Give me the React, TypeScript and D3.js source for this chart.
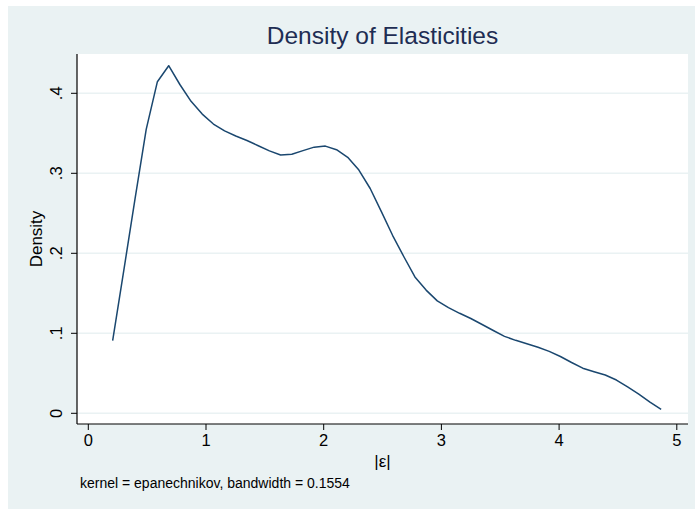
import React, { useEffect, useRef } from "react";
import * as d3 from "d3";

const xValues = [0.207,0.302,0.397,0.492,0.587,0.683,0.778,0.873,0.968,1.063,1.158,1.253,1.348,1.444,1.539,1.634,1.729,1.824,1.919,2.014,2.109,2.204,2.299,2.395,2.490,2.585,2.680,2.775,2.870,2.965,3.060,3.155,3.250,3.346,3.441,3.536,3.631,3.726,3.821,3.916,4.011,4.106,4.201,4.297,4.392,4.487,4.582,4.677,4.772,4.867];
const densityValues = [0.0908,0.179,0.268,0.355,0.4145,0.4345,0.411,0.39,0.374,0.3616,0.353,0.3466,0.341,0.3345,0.328,0.3228,0.3238,0.3283,0.3327,0.334,0.3295,0.32,0.304,0.281,0.252,0.2225,0.196,0.1705,0.154,0.1405,0.132,0.125,0.1185,0.111,0.1035,0.0962,0.0912,0.087,0.0825,0.0774,0.071,0.0635,0.0564,0.052,0.0479,0.0416,0.033,0.024,0.0141,0.005];
const xTicks = [0, 1, 2, 3, 4, 5];
const yTicks = [0, 0.1, 0.2, 0.3, 0.4];
const yTickLabels = ["0", ".1", ".2", ".3", ".4"];
const title = "Density of Elasticities";
const xTitle = "|ε|";
const yTitle = "Density";
const note = "kernel = epanechnikov, bandwidth = 0.1554";

const W = 695, H = 509;
const plot = { left: 77, right: 688, top: 54, bottom: 424 };
const FONT = "'Liberation Sans', Arial, Helvetica, sans-serif";

export default function App() {
  const ref = useRef<SVGSVGElement>(null);
  useEffect(() => {
    document.body.style.margin = "0";
    const svg = d3.select(ref.current);
    svg.selectAll("*").remove();
    const x = d3.scaleLinear().domain([0, 5]).range([88.3, 676.8]);
    const y = d3.scaleLinear().domain([0, 0.4]).range([413.3, 93.3]);

    svg.append("rect").attr("width", W).attr("height", H).attr("fill", "#ffffff");
    svg.append("rect").attr("x", 8).attr("y", 6).attr("width", W - 8).attr("height", H - 6).attr("fill", "#eaf2f3");
    svg.append("rect").attr("x", plot.left).attr("y", plot.top)
      .attr("width", plot.right - plot.left).attr("height", plot.bottom - plot.top).attr("fill", "#ffffff");

    // gridlines
    svg.append("g").selectAll("line").data(yTicks).join("line")
      .attr("x1", plot.left).attr("x2", plot.right)
      .attr("y1", d => y(d)).attr("y2", d => y(d))
      .attr("stroke", "#eaf2f3").attr("stroke-width", 1.5);

    // curve
    const data = xValues.map((v, i) => [v, densityValues[i]] as [number, number]);
    svg.append("path").datum(data)
      .attr("d", d3.line().x(d => x(d[0])).y(d => y(d[1])))
      .attr("fill", "none").attr("stroke", "#1a476f").attr("stroke-width", 1.5)
      .attr("stroke-linejoin", "round");

    // axes
    svg.append("line").attr("x1", plot.left).attr("x2", plot.left).attr("y1", plot.top).attr("y2", plot.bottom)
      .attr("stroke", "#000").attr("stroke-width", 1.2);
    svg.append("line").attr("x1", plot.left).attr("x2", plot.right).attr("y1", plot.bottom).attr("y2", plot.bottom)
      .attr("stroke", "#000").attr("stroke-width", 1.2);

    const yt = svg.append("g");
    yTicks.forEach((t, i) => {
      yt.append("line").attr("x1", plot.left - 6).attr("x2", plot.left).attr("y1", y(t)).attr("y2", y(t))
        .attr("stroke", "#000").attr("stroke-width", 1);
      yt.append("text").attr("transform", `translate(62,${y(t)}) rotate(-90)`)
        .attr("text-anchor", "middle").attr("font-family", FONT).attr("font-size", 16.5).attr("fill", "#000")
        .text(yTickLabels[i]);
    });
    const xt = svg.append("g");
    xTicks.forEach(t => {
      xt.append("line").attr("x1", x(t)).attr("x2", x(t)).attr("y1", plot.bottom).attr("y2", plot.bottom + 6)
        .attr("stroke", "#000").attr("stroke-width", 1);
      xt.append("text").attr("x", x(t)).attr("y", 446)
        .attr("text-anchor", "middle").attr("font-family", FONT).attr("font-size", 16.5).attr("fill", "#000")
        .text(String(t));
    });

    svg.append("text").attr("x", (plot.left + plot.right) / 2).attr("y", 44)
      .attr("text-anchor", "middle").attr("font-family", FONT).attr("font-size", 24.5).attr("fill", "#1e2d53")
      .text(title);
    svg.append("text").attr("transform", `translate(42,${(plot.top + plot.bottom) / 2}) rotate(-90)`)
      .attr("text-anchor", "middle").attr("font-family", FONT).attr("font-size", 17).attr("fill", "#000")
      .text(yTitle);
    svg.append("text").attr("x", (plot.left + plot.right) / 2).attr("y", 467)
      .attr("text-anchor", "middle").attr("font-family", FONT).attr("font-size", 17).attr("fill", "#000")
      .text(xTitle);
    svg.append("text").attr("x", 80).attr("y", 488)
      .attr("font-family", FONT).attr("font-size", 14).attr("fill", "#000")
      .text(note);
  }, []);
  return <svg ref={ref} width={W} height={H} style={{ display: "block", position: "absolute", left: 0, top: 0 }} />;
}
